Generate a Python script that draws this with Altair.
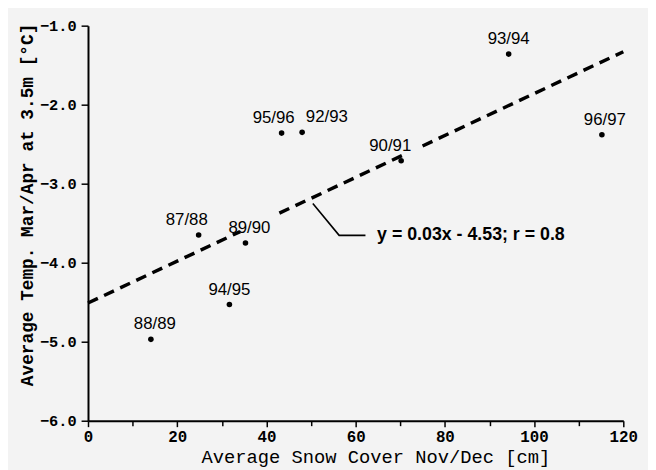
import altair as alt
import pandas as pd

# ---- data ----
seasons = ["87/88", "88/89", "89/90", "90/91", "92/93", "93/94", "94/95", "95/96", "96/97"]
snow = [24.8, 14.1, 35.3, 70.2, 48.0, 94.3, 31.7, 43.4, 115.2]
temp = [-3.65, -4.97, -3.75, -2.71, -2.35, -1.36, -4.53, -2.36, -2.38]

# regression line as drawn (end points) and where it is broken for labels
fit_x = [0, 120]
fit_y = [-4.51, -1.33]
fit_pieces = [(0, 34.1), (42.9, 71.4), (75.0, 120)]

equation = "y = 0.03x - 4.53; r = 0.8"
leader_x = [50.4, 56.3, 62.2]
leader_y = [-3.25, -3.654, -3.654]
equation_x = 64.8
equation_y = -3.654

# label nudges (pixels) so labels sit as in the original
label_dx = {"87/88": -12, "88/89": 4, "89/90": 4, "90/91": -11, "92/93": 25,
            "93/94": 0, "94/95": 0, "95/96": -8, "96/97": 3}

pts = pd.DataFrame({"season": seasons, "snow": snow, "temp": temp})

slope = (fit_y[1] - fit_y[0]) / (fit_x[1] - fit_x[0])
rows = []
for i, (a, b) in enumerate(fit_pieces):
    for xv in (a, b):
        rows.append({"piece": i, "snow": xv, "temp": fit_y[0] + slope * (xv - fit_x[0])})
fit = pd.DataFrame(rows)

leader = pd.DataFrame({"snow": leader_x, "temp": leader_y, "o": [0, 1, 2]})
eq = pd.DataFrame({"snow": [equation_x], "temp": [equation_y], "t": [equation]})

xscale = alt.Scale(domain=[0, 120], nice=False)
yscale = alt.Scale(domain=[-6, -1], nice=False, zero=False)

MONO = "Liberation Mono"
SANS = "Liberation Sans"

xaxis = alt.Axis(
    values=list(range(0, 121, 10)),
    labelExpr="datum.value % 20 === 0 ? datum.label : ''",
    title="Average Snow Cover Nov/Dec [cm]",
    titleFont=MONO, titleFontSize=19, titleFontWeight="normal", titleColor="black",
    titleX=291, titleY=42, titleBaseline="alphabetic", titleAlign="center",
    labelFont=MONO, labelFontSize=16, labelFontWeight="bold", labelColor="black",
    labelPadding=2, labelFlush=False, labelOverlap=False,
    tickSize={"expr": "datum.value % 20 === 0 ? 6 : 5"},
    tickColor="black", tickWidth=1.5,
    domainColor="black", domainWidth=2, grid=False,
)
yaxis = alt.Axis(
    values=[-6, -5.5, -5, -4.5, -4, -3.5, -3, -2.5, -2, -1.5, -1],
    format=".1f",
    labelExpr="abs(datum.value - round(datum.value)) < 0.01 ? datum.label : ''",
    title="Average Temp. Mar/Apr at 3.5m [°C]",
    titleFont=MONO, titleFontSize=18, titleFontWeight="bold", titleColor="black",
    titleX=-56, titleY=181, titleBaseline="alphabetic", titleAlign="center", titleAngle=270,
    labelFont=MONO, labelFontSize=15.5, labelFontWeight="bold", labelColor="black",
    labelPadding=5, labelFlush=False, labelOverlap=False,
    tickSize={"expr": "abs(datum.value - round(datum.value)) < 0.01 ? 7 : 4"},
    tickColor="black", tickWidth=1.5,
    domainColor="black", domainWidth=2, grid=False,
)

points = alt.Chart(pts).mark_circle(size=32, color="black", opacity=1).encode(
    x=alt.X("snow:Q", scale=xscale, axis=xaxis),
    y=alt.Y("temp:Q", scale=yscale, axis=yaxis),
)

fitline = alt.Chart(fit).mark_line(
    color="black", strokeWidth=3.5, strokeDash=[11, 7], strokeCap="butt"
).encode(
    x=alt.X("snow:Q", scale=xscale),
    y=alt.Y("temp:Q", scale=yscale),
    detail="piece:N",
)

labels = []
for s in seasons:
    labels.append(
        alt.Chart(pts[pts.season == s]).mark_text(
            font=SANS, fontSize=17, color="black", align="center",
            baseline="alphabetic", dx=label_dx[s], dy=-10,
        ).encode(x=alt.X("snow:Q", scale=xscale), y=alt.Y("temp:Q", scale=yscale), text="season:N")
    )

leaderline = alt.Chart(leader).mark_line(color="black", strokeWidth=1.6).encode(
    x=alt.X("snow:Q", scale=xscale), y=alt.Y("temp:Q", scale=yscale), order="o:Q"
)
eqtext = alt.Chart(eq).mark_text(
    font=SANS, fontSize=18, fontWeight="bold", color="black", align="left", baseline="middle"
).encode(x=alt.X("snow:Q", scale=xscale), y=alt.Y("temp:Q", scale=yscale), text="t:N")

chart = alt.layer(fitline, points, *labels, leaderline, eqtext).properties(
    width=542, height=400,
    autosize=alt.AutoSizeParams(type="none"),
    padding={"left": 81, "top": 15, "right": 25, "bottom": 47},
    background="#f3f3f3",
).configure_view(strokeWidth=0)

chart.save("out.html", embed_options={"renderer": "svg", "actions": False})
